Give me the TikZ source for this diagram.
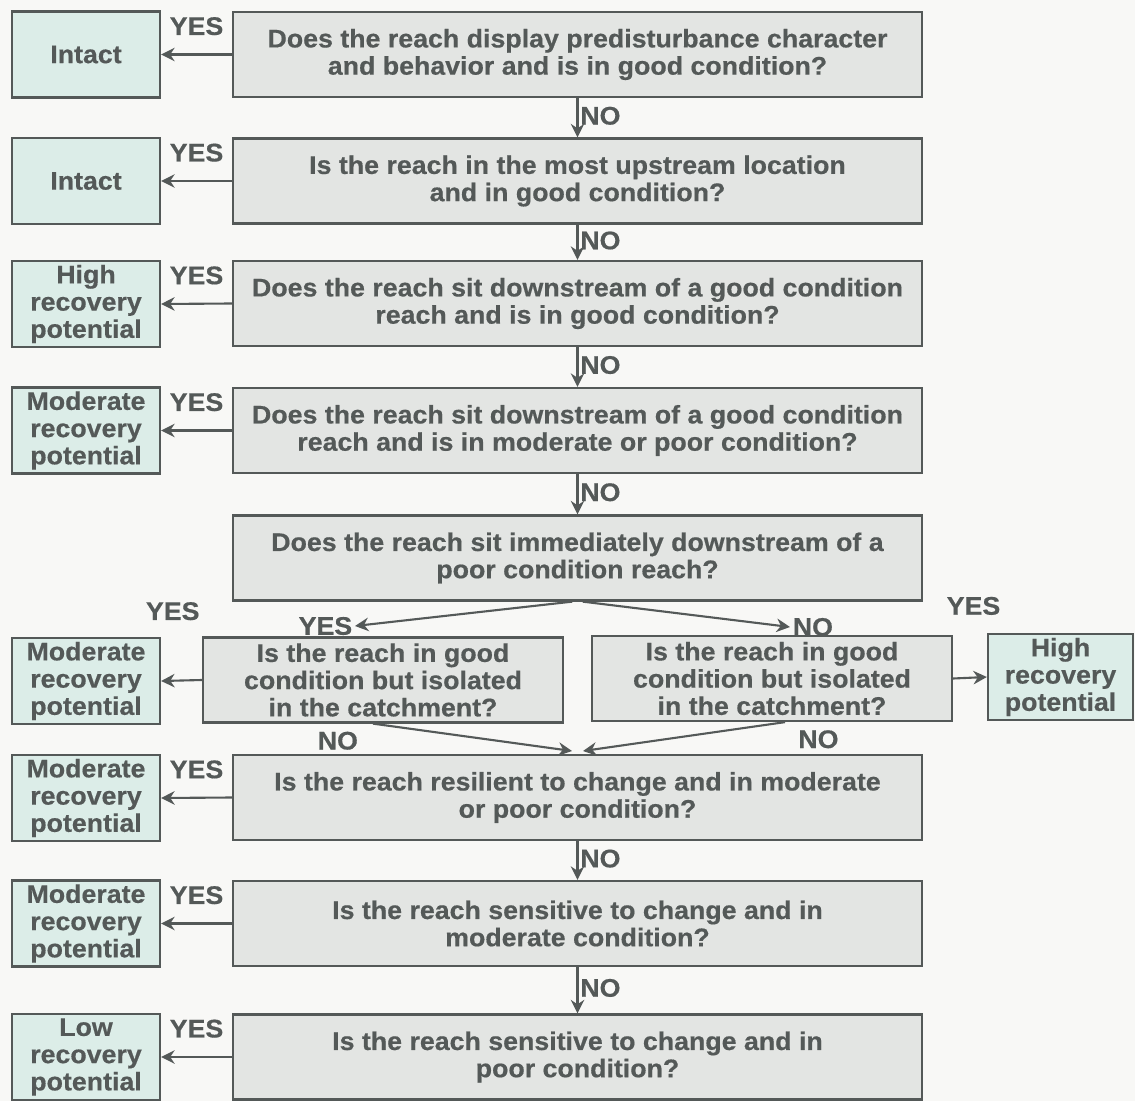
\documentclass[tikz,border=0pt]{standalone}
\usepackage{fontspec}
\setmainfont[FakeStretch=1.05, BoldFeatures={FakeBold=0.5}]{Liberation Sans}
\usetikzlibrary{arrows.meta}

\definecolor{qfill}{HTML}{E3E5E3}
\definecolor{ofill}{HTML}{DCEDE8}
\definecolor{ink}{HTML}{545958}
\definecolor{page}{HTML}{F8F8F6}

\tikzset{
  txt/.style = {text = ink, font = {\bfseries\fontsize{14.5}{15.5}\selectfont}},
  question/.style = {txt, draw = ink, line width = 1.3pt, fill = qfill, align = center,
                     minimum width = 13.78cm, minimum height = 1.7cm, inner sep = 0pt},
  branchq/.style = {question, minimum width = 7.2cm},
  outcome/.style = {txt, draw = ink, line width = 1.3pt, fill = ofill, align = center,
                    minimum width = 2.96cm, minimum height = 1.72cm, inner sep = 0pt},
  link/.style = {ink, line width = 1.2pt, -{Stealth[length = 2.7mm, width = 2.7mm]}},
  tag/.style = {txt, inner sep = 1pt}
}

\begin{document}
\begin{tikzpicture}[x = 0.02cm, y = -0.02cm]
        \fill[page] (0,0) rectangle (1135,1101);
        \useasboundingbox (0,0) rectangle (1135,1101);

        % questions down the middle
        \node[question] (q1) at (577.5,54.5) {Does the reach display predisturbance character\\and behavior and is in good condition?};
        \node[question] (q2) at (577.5,181) {Is the reach in the most upstream location\\and in good condition?};
        \node[question] (q3) at (577.5,303.5) {Does the reach sit downstream of a good condition\\reach and is in good condition?};
        \node[question] (q4) at (577.5,430.5) {Does the reach sit downstream of a good condition\\reach and is in moderate or poor condition?};
        \node[question] (q5) at (577.5,558) {Does the reach sit immediately downstream of a\\poor condition reach?};
        \node[branchq] (q6a) at (383,680) {Is the reach in good\\condition but isolated\\in the catchment?};
        \node[branchq] (q6b) at (772,678.5) {Is the reach in good\\condition but isolated\\in the catchment?};
        \node[question] (q7) at (577.5,797.5) {Is the reach resilient to change and in moderate\\or poor condition?};
        \node[question] (q8) at (577.5,923.5) {Is the reach sensitive to change and in\\moderate condition?};
        \node[question] (q9) at (577.5,1057) {Is the reach sensitive to change and in\\poor condition?};

        % outcomes
        \node[outcome] (o1) at (86,54.5) {Intact};
        \node[outcome] (o2) at (86,181) {Intact};
        \node[outcome] (o3) at (86,304) {High\\recovery\\potential};
        \node[outcome] (o4) at (86,430.5) {Moderate\\recovery\\potential};
        \node[outcome] (o6a) at (86,681) {Moderate\\recovery\\potential};
        \node[outcome, minimum width = 2.9cm] (o6b) at (1060.5,677) {High\\recovery\\potential};
        \node[outcome] (o7) at (86,798) {Moderate\\recovery\\potential};
        \node[outcome] (o8) at (86,923.5) {Moderate\\recovery\\potential};
        \node[outcome] (o9) at (86,1057) {Low\\recovery\\potential};

        % free ends
        \coordinate (yesend) at (355,626);
        \coordinate (noend) at (790,627);
        \coordinate (meetl) at (572,751);
        \coordinate (meetr) at (583,751);

        % NO, going down
        \draw[link] (q1.south) -- node[tag, right, pos = 0.45] {NO} (q2.north);
        \draw[link] (q2.south) -- node[tag, right, pos = 0.45] {NO} (q3.north);
        \draw[link] (q3.south) -- node[tag, right, pos = 0.45] {NO} (q4.north);
        \draw[link] (q4.south) -- node[tag, right, pos = 0.45] {NO} (q5.north);
        \draw[link] (q7.south) -- node[tag, right, pos = 0.45] {NO} (q8.north);
        \draw[link] (q8.south) -- node[tag, right, pos = 0.45] {NO} (q9.north);

        % YES, going left
        \draw[link] (q1.west) -- node[tag, above = 0.33cm] {YES} (o1.east);
        \draw[link] (q2.west) -- node[tag, above = 0.33cm] {YES} (o2.east);
        \draw[link] (q3.west) -- node[tag, above = 0.33cm] {YES} (o3.east);
        \draw[link] (q4.west) -- node[tag, above = 0.33cm] {YES} (o4.east);
        \draw[link] (q7.west) -- node[tag, above = 0.33cm] {YES} (o7.east);
        \draw[link] (q8.west) -- node[tag, above = 0.33cm] {YES} (o8.east);
        \draw[link] (q9.west) -- node[tag, above = 0.33cm] {YES} (o9.east);

        % the split
        \draw[link] ([xshift = -3pt]q5.south) -- (yesend) node[tag, left] {YES};
        \draw[link] ([xshift = 3pt]q5.south) -- (noend) node[tag, right] {NO};
        \draw[link] (q6a.west) -- node[tag, above = 1.15cm, xshift = -5pt] {YES} (o6a.east);
        \draw[link] (q6b.east) -- node[tag, above = 1.2cm, xshift = 2pt] {YES} (o6b.west);
        \draw[link] ([xshift = -0.2cm]q6a.south) node[tag, below left, xshift = -7pt, yshift = -3pt] {NO} -- (meetl);
        \draw[link] ([xshift = 0.26cm]q6b.south) node[tag, below right, xshift = 6pt, yshift = -3pt] {NO} -- (meetr);
\end{tikzpicture}
\end{document}
